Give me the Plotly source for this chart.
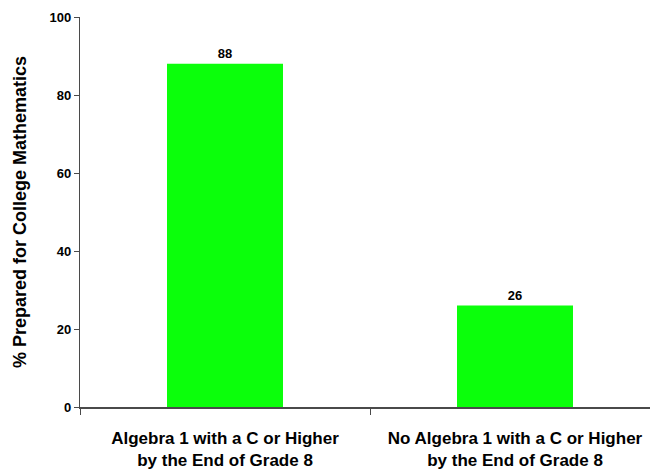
import plotly.graph_objects as go

categories = [
    "Algebra 1 with a C or Higher<br>by the End of Grade 8",
    "No Algebra 1 with a C or Higher<br>by the End of Grade 8",
]
values = [88, 26]
y_ticks = [0, 20, 40, 60, 80, 100]

FONT = "Arial, Liberation Sans, sans-serif"
AXIS_COLOR = "#4a4a4a"

fig = go.Figure(
    go.Bar(
        x=categories,
        y=values,
        width=0.4,
        marker=dict(color="#0bff0b", line=dict(width=0)),
        text=[str(v) for v in values],
        textposition="outside",
        textfont=dict(family=FONT, size=13, color="#000000", weight="bold"),
        cliponaxis=False,
    )
)

fig.update_layout(
    width=650,
    height=472,
    margin=dict(l=80, r=0, t=17, b=65),
    paper_bgcolor="white",
    plot_bgcolor="white",
    showlegend=False,
    font=dict(family=FONT, color="#000000"),
    xaxis=dict(
        type="category",
        range=[-0.5, 1.4655],
        tickson="boundaries",
        ticks="outside",
        ticklen=6,
        tickwidth=1.2,
        tickcolor=AXIS_COLOR,
        ticklabelstandoff=15,
        showline=True,
        linecolor=AXIS_COLOR,
        linewidth=1.5,
        showgrid=False,
        zeroline=False,
        tickfont=dict(family=FONT, size=17, color="#000000", weight="bold"),
    ),
    yaxis=dict(
        range=[0, 100],
        tickvals=y_ticks,
        ticks="outside",
        ticklen=5,
        tickwidth=1.2,
        tickcolor=AXIS_COLOR,
        showline=True,
        linecolor=AXIS_COLOR,
        linewidth=1.2,
        showgrid=False,
        zeroline=False,
        tickfont=dict(family=FONT, size=13, color="#000000", weight="bold"),
        title=dict(
            text="% Prepared for College Mathematics",
            font=dict(family=FONT, size=18, color="#000000", weight="bold"),
            standoff=18,
        ),
    ),
)

fig.write_html("out.html")
